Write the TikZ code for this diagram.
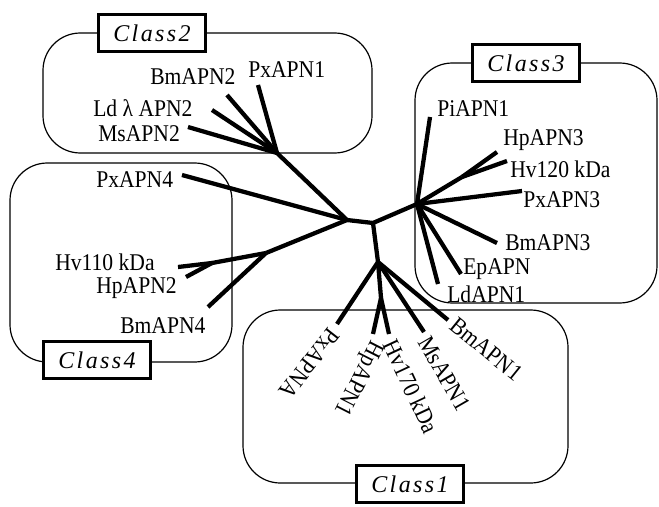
\documentclass[tikz,border=0pt]{standalone}
\usepackage{fontspec}
\newfontfamily\lblfont{Liberation Serif}[FakeStretch=0.9]
\newfontfamily\clsfont{Liberation Serif}[LetterSpace=10]
\usetikzlibrary{positioning}

\begin{document}
\begin{tikzpicture}[
  x=0.75pt, y=-0.75pt,
  region/.style={draw, line width=0.9pt, rounded corners=28pt},
  branch/.style={line width=3.2pt, line join=round},
  leaf/.style={font=\fontsize{18}{20}\selectfont\lblfont, inner sep=0pt, anchor=base west},
  rleaf/.style={font=\fontsize{18}{20}\selectfont\lblfont, inner sep=0pt, anchor=west},
  cls/.style={draw, line width=2.3pt, fill=white, font=\fontsize{18}{20}\selectfont\clsfont\itshape,
              minimum width=80pt, minimum height=28pt, inner sep=0pt}
]
\useasboundingbox (0,0) rectangle (659,506);

% Class regions
\draw[region] (43,33) rectangle (372,153);
\draw[region] (415,63) rectangle (657,303);
\draw[region] (10,163) rectangle (232,362);
\draw[region] (243,310) rectangle (568,483);

% Inner points of the tree
\coordinate (A) at (347,220);
\coordinate (B) at (373,223);
\coordinate (C) at (417,204);
\coordinate (D) at (378,262);
\coordinate (hubtwo) at (277,153);
\coordinate (hubfour) at (266,253);
\coordinate (hubfourb) at (212,263);
\coordinate (hubthree) at (462,177);
\coordinate (hubone) at (381,298);

% Leaf ends
\coordinate (tPxAPN1) at (258,85);
\coordinate (tBmAPN2) at (227,95);
\coordinate (tLdAPN2) at (212,110);
\coordinate (tMsAPN2) at (188,127);
\coordinate (tPxAPN4) at (182,175);
\coordinate (tHvOneTen) at (178,267);
\coordinate (tHpAPN2) at (186,277);
\coordinate (tBmAPN4) at (208,307);
\coordinate (tPiAPN1) at (430,117);
\coordinate (tHpAPN3) at (497,152);
\coordinate (tHvOneTwenty) at (507,161);
\coordinate (tPxAPN3) at (522,191);
\coordinate (tBmAPN3) at (497,243);
\coordinate (tEpAPN) at (461,274);
\coordinate (tLdAPN1) at (438,284);
\coordinate (tPxAPNA) at (337,324);
\coordinate (tHpAPN1) at (373,334);
\coordinate (tHvOneSeventy) at (389,334);
\coordinate (tMsAPN1) at (424,332);
\coordinate (tBmAPN1) at (448,320);

% Backbone
\draw[branch] (A) -- (B);
\draw[branch] (B) -- (C);
\draw[branch] (B) -- (D);
\draw[branch] (A) -- (hubtwo);
\draw[branch] (A) -- (hubfour);
\draw[branch] (A) -- (tPxAPN4);

% Class2
\draw[branch] (hubtwo) -- (tPxAPN1);
\draw[branch] (hubtwo) -- (tBmAPN2);
\draw[branch] (hubtwo) -- (tLdAPN2);
\draw[branch] (hubtwo) -- (tMsAPN2);

% Class4
\draw[branch] (hubfour) -- (hubfourb);
\draw[branch] (hubfourb) -- (tHvOneTen);
\draw[branch] (hubfourb) -- (tHpAPN2);
\draw[branch] (hubfour) -- (tBmAPN4);

% Class3
\draw[branch] (C) -- (tPiAPN1);
\draw[branch] (C) -- (hubthree);
\draw[branch] (hubthree) -- (tHpAPN3);
\draw[branch] (hubthree) -- (tHvOneTwenty);
\draw[branch] (C) -- (tPxAPN3);
\draw[branch] (C) -- (tBmAPN3);
\draw[branch] (C) -- (tEpAPN);
\draw[branch] (C) -- (tLdAPN1);

% Class1
\draw[branch] (D) -- (tPxAPNA);
\draw[branch] (D) -- (hubone);
\draw[branch] (hubone) -- (tHpAPN1);
\draw[branch] (hubone) -- (tHvOneSeventy);
\draw[branch] (D) -- (tMsAPN1);
\draw[branch] (D) -- (tBmAPN1);

% Leaf labels
\node[leaf] (PxAPN1) at (248,78) {PxAPN1};
\node[leaf] (BmAPN2) at (150,85) {BmAPN2};
\node[leaf] (LdAPN2) at (93,117) {Ld λ APN2};
\node[leaf] (MsAPN2) at (98,142) {MsAPN2};
\node[leaf] (PxAPN4) at (96,187) {PxAPN4};
\node[leaf] (HvOneTen) at (55,270) {Hv110 kDa};
\node[leaf] (HpAPN2) at (96,293) {HpAPN2};
\node[leaf] (BmAPN4) at (120,333) {BmAPN4};
\node[leaf] (PiAPN1) at (437,117) {PiAPN1};
\node[leaf] (HpAPN3) at (503,145) {HpAPN3};
\node[leaf] (HvOneTwenty) at (510,177) {Hv120 kDa};
\node[leaf] (PxAPN3) at (523,207) {PxAPN3};
\node[leaf] (BmAPN3) at (505,250) {BmAPN3};
\node[leaf] (EpAPN) at (463,274) {EpAPN};
\node[leaf] (LdAPN1) at (447,302) {LdAPN1};
\node[rleaf, rotate=232] (PxAPNA) at (335,331) {PxAPNA};
\node[rleaf, rotate=243] (HpAPN1) at (376,342) {HpAPN1};
\node[rleaf, rotate=-65] (HvOneSeventy) at (390,341) {Hv170 kDa};
\node[rleaf, rotate=-60] (MsAPN1) at (424,338) {MsAPN1};
\node[rleaf, rotate=-39] (BmAPN1) at (453,322) {BmAPN1};

% Class labels
\node[cls] (classtwo) at (152,33) {Class2};
\node[cls] (classthree) at (526,63) {Class3};
\node[cls] (classfour) at (97,360) {Class4};
\node[cls] (classone) at (410,484) {Class1};

\end{tikzpicture}
\end{document}
